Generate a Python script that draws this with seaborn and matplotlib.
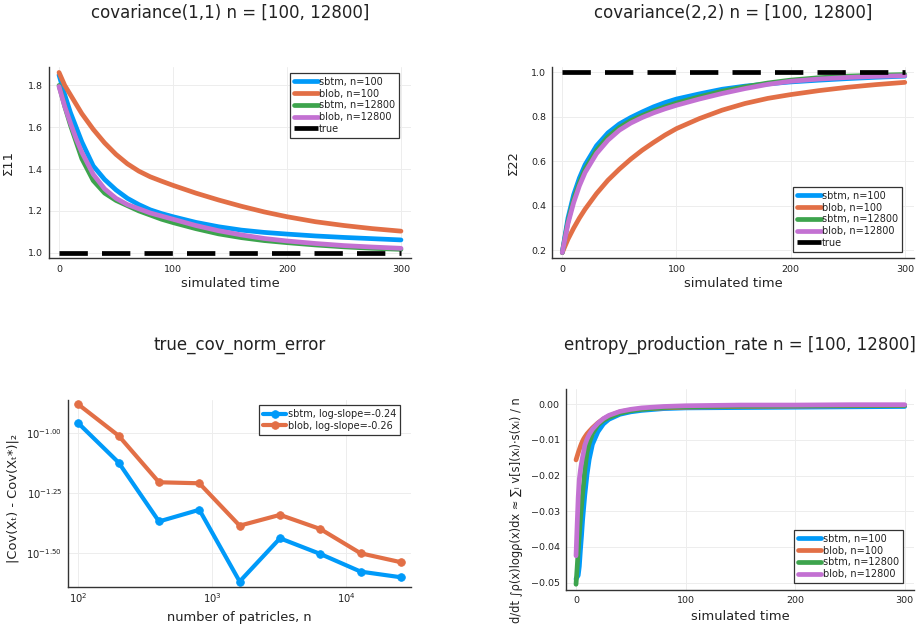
import matplotlib
matplotlib.use("Agg")
import matplotlib.pyplot as plt
import seaborn as sns
import numpy as np
import pandas as pd
from matplotlib.ticker import NullLocator, FixedLocator, FixedFormatter

# ---------------- data ----------------
t_cov = [0, 5, 10, 15, 20, 30, 40, 50, 60, 70, 80, 90, 100, 120, 140, 160, 180, 200, 225, 250, 275, 300]

s11_sbtm_100 = [1.85, 1.755, 1.67, 1.60, 1.53, 1.415, 1.35, 1.30, 1.26, 1.23, 1.205, 1.187, 1.172, 1.145, 1.124,
                1.108, 1.097, 1.089, 1.080, 1.073, 1.067, 1.061]
s11_blob_100 = [1.862, 1.80, 1.755, 1.71, 1.665, 1.59, 1.525, 1.47, 1.425, 1.39, 1.363, 1.342, 1.322, 1.285, 1.252,
                1.222, 1.195, 1.172, 1.148, 1.13, 1.115, 1.103]
s11_sbtm_12800 = [1.80, 1.70, 1.61, 1.53, 1.45, 1.345, 1.285, 1.25, 1.225, 1.20, 1.18, 1.16, 1.144, 1.115, 1.09,
                  1.072, 1.058, 1.048, 1.037, 1.028, 1.021, 1.016]
s11_blob_12800 = [1.795, 1.70, 1.62, 1.545, 1.48, 1.375, 1.305, 1.26, 1.23, 1.21, 1.19, 1.175, 1.16, 1.13, 1.105,
                  1.085, 1.068, 1.056, 1.044, 1.034, 1.027, 1.021]

s22_sbtm_100 = [0.19, 0.345, 0.45, 0.525, 0.585, 0.67, 0.728, 0.768, 0.797, 0.822, 0.845, 0.864, 0.88, 0.903, 0.924,
                0.938, 0.948, 0.957, 0.965, 0.972, 0.978, 0.983]
s22_blob_100 = [0.19, 0.25, 0.30, 0.345, 0.385, 0.455, 0.515, 0.565, 0.61, 0.65, 0.685, 0.718, 0.747, 0.792, 0.83,
                0.86, 0.883, 0.90, 0.918, 0.933, 0.945, 0.955]
s22_sbtm_12800 = [0.19, 0.33, 0.43, 0.505, 0.565, 0.65, 0.71, 0.752, 0.783, 0.806, 0.827, 0.845, 0.862, 0.89, 0.915,
                  0.935, 0.952, 0.965, 0.976, 0.983, 0.987, 0.99]
s22_blob_12800 = [0.19, 0.32, 0.415, 0.49, 0.55, 0.635, 0.695, 0.74, 0.772, 0.797, 0.818, 0.836, 0.852, 0.88, 0.905,
                  0.927, 0.946, 0.96, 0.97, 0.977, 0.982, 0.985]

t_true = [0, 300]
true_s11 = [1.0, 1.0]
true_s22 = [1.0, 1.0]

n_particles = [100, 200, 400, 800, 1600, 3200, 6400, 12800, 25600]
err_sbtm = [0.1102, 0.0755, 0.0429, 0.0480, 0.0241, 0.0365, 0.0314, 0.0265, 0.0251]
err_blob = [0.1320, 0.0977, 0.0625, 0.0619, 0.0412, 0.0457, 0.0399, 0.0316, 0.0290]

t_ent = [0, 1, 2, 3, 4, 5, 6, 7, 8, 10, 12, 15, 20, 25, 30, 40, 50, 60, 80, 100, 150, 200, 250, 300]
ent_sbtm_100 = [-0.049, -0.0485, -0.048, -0.0455, -0.041, -0.037, -0.0325, -0.029, -0.0255, -0.0198, -0.0155,
                -0.0112, -0.0077, -0.0055, -0.0042, -0.0028, -0.0021, -0.0017, -0.0012, -0.0010, -0.0009,
                -0.0008, -0.0007, -0.0006]
ent_blob_100 = [-0.0156, -0.0146, -0.0136, -0.0127, -0.0118, -0.0110, -0.0103, -0.0097, -0.0092, -0.0083, -0.0076,
                -0.0066, -0.0052, -0.0041, -0.0033, -0.0021, -0.0016, -0.0013, -0.0010, -0.0008, -0.0006,
                -0.0005, -0.0004, -0.0003]
ent_sbtm_12800 = [-0.0505, -0.046, -0.041, -0.0365, -0.032, -0.0285, -0.025, -0.022, -0.0185, -0.0135, -0.011,
                  -0.0082, -0.0058, -0.0045, -0.0037, -0.0025, -0.0018, -0.0014, -0.0009, -0.0007, -0.0005,
                  -0.0004, -0.0003, -0.0003]
ent_blob_12800 = [-0.0425, -0.034, -0.026, -0.021, -0.0185, -0.0165, -0.0148, -0.0133, -0.0115, -0.0098, -0.0085,
                  -0.0070, -0.0053, -0.0040, -0.0031, -0.0020, -0.0014, -0.0010, -0.0006, -0.0004, -0.0002,
                  -0.0002, -0.0001, -0.0001]

labels4 = ["sbtm, n=100", "blob, n=100", "sbtm, n=12800", "blob, n=12800"]
labels_err = ["sbtm, log-slope=-0.24", "blob, log-slope=-0.26"]

titles = ["covariance(1,1) n = [100, 12800]", "covariance(2,2) n = [100, 12800]",
          "true_cov_norm_error", "entropy_production_rate n = [100, 12800]"]

# ---------------- style ----------------
sns.set_theme(style="white")
plt.rcParams['font.family'] = ['DejaVu Sans']
plt.rcParams['axes.unicode_minus'] = True

C = ['#009AF9', '#E26F46', '#3DA44D', '#C371D2']
TXT = '#222222'
GRID = '#ededed'
LW = 3.4

fig = plt.figure(figsize=(9.24, 6.31), dpi=100)
ax_tl = fig.add_axes([0.0534, 0.5906, 0.3914, 0.3032])
ax_tr = fig.add_axes([0.5977, 0.5906, 0.3914, 0.3032])
ax_bl = fig.add_axes([0.0739, 0.0693, 0.3709, 0.2968])
ax_br = fig.add_axes([0.6126, 0.0650, 0.3766, 0.3185])


def style_ax(ax):
    for s in ['top', 'right']:
        ax.spines[s].set_visible(False)
    for s in ['left', 'bottom']:
        ax.spines[s].set_color('#333333')
        ax.spines[s].set_linewidth(1.0)
    ax.tick_params(axis='both', direction='in', length=3, width=0.8, color='#333333',
                   labelsize=6.8, labelcolor=TXT, pad=4.5)
    ax.grid(True, color=GRID, linewidth=0.7)
    ax.set_axisbelow(True)


def legend(ax, loc, anchor, lw=3.4):
    leg = ax.legend(loc=loc, bbox_to_anchor=anchor, borderaxespad=0, fontsize=7.0,
                    frameon=True, fancybox=False, edgecolor='#333333', framealpha=1,
                    handlelength=2.4, handletextpad=0.15, labelspacing=0.18, borderpad=0.4)
    leg.get_frame().set_linewidth(0.9)
    for h in leg.get_lines():
        h.set_linewidth(lw)
    for tx in leg.get_texts():
        tx.set_color(TXT)


# ---- top-left ----
for vals, c, lab in zip([s11_sbtm_100, s11_blob_100, s11_sbtm_12800, s11_blob_12800], C, labels4):
    sns.lineplot(x=t_cov, y=vals, ax=ax_tl, color=c, linewidth=LW, label=lab)
sns.lineplot(x=t_true, y=true_s11, ax=ax_tl, color='black', linewidth=LW, label='true',
             linestyle=(0, (6.0, 3.0)))
ax_tl.set_xlim(-8.5, 308.8)
ax_tl.set_ylim(0.973, 1.888)
ax_tl.set_xticks([0, 100, 200, 300])
ax_tl.set_yticks([1.0, 1.2, 1.4, 1.6, 1.8])
ax_tl.set_yticklabels(['1.0', '1.2', '1.4', '1.6', '1.8'])
style_ax(ax_tl)
legend(ax_tl, 'upper right', (0.967, 0.969))

# ---- top-right ----
for vals, c, lab in zip([s22_sbtm_100, s22_blob_100, s22_sbtm_12800, s22_blob_12800], C, labels4):
    sns.lineplot(x=t_cov, y=vals, ax=ax_tr, color=c, linewidth=LW, label=lab)
sns.lineplot(x=t_true, y=true_s22, ax=ax_tr, color='black', linewidth=LW, label='true',
             linestyle=(0, (6.0, 3.0)))
ax_tr.set_xlim(-8.75, 308)
ax_tr.set_ylim(0.164, 1.024)
ax_tr.set_xticks([0, 100, 200, 300])
ax_tr.set_yticks([0.2, 0.4, 0.6, 0.8, 1.0])
ax_tr.set_yticklabels(['0.2', '0.4', '0.6', '0.8', '1.0'])
style_ax(ax_tr)
legend(ax_tr, 'lower right', (0.967, 0.0345))

# ---- bottom-left ----
for vals, c, lab in zip([err_sbtm, err_blob], C[:2], labels_err):
    sns.lineplot(x=n_particles, y=vals, ax=ax_bl, color=c, linewidth=3.0, label=lab,
                 marker='o', markersize=5.5, markeredgecolor=c, markeredgewidth=0.6)
ax_bl.set_xscale('log')
ax_bl.set_yscale('log')
ax_bl.set_xlim(10 ** 1.925, 10 ** 4.483)
ax_bl.set_ylim(10 ** -1.642, 10 ** -0.861)
ax_bl.xaxis.set_major_locator(FixedLocator([1e2, 1e3, 1e4]))
ax_bl.xaxis.set_major_formatter(FixedFormatter([r'$10^2$', r'$10^3$', r'$10^4$']))
ax_bl.yaxis.set_major_locator(FixedLocator([10 ** -1.5, 10 ** -1.25, 10 ** -1.0]))
ax_bl.yaxis.set_major_formatter(FixedFormatter([r'$10^{-1.50}$', r'$10^{-1.25}$', r'$10^{-1.00}$']))
ax_bl.xaxis.set_minor_locator(NullLocator())
ax_bl.yaxis.set_minor_locator(NullLocator())
style_ax(ax_bl)
ax_bl.tick_params(axis='both', labelsize=7.2)
ax_bl.tick_params(axis='x', pad=3)
legend(ax_bl, 'upper right', (0.968, 0.973), lw=3.0)

# ---- bottom-right ----
for vals, c, lab in zip([ent_sbtm_100, ent_blob_100, ent_sbtm_12800, ent_blob_12800], C, labels4):
    sns.lineplot(x=t_ent, y=vals, ax=ax_br, color=c, linewidth=LW, label=lab)
ax_br.set_xlim(-9.1, 308.5)
ax_br.set_ylim(-0.0521, 0.0043)
ax_br.set_xticks([0, 100, 200, 300])
ax_br.set_yticks([-0.05, -0.04, -0.03, -0.02, -0.01, 0.0])
ax_br.set_yticklabels(['\u22120.05', '\u22120.04', '\u22120.03', '\u22120.02', '\u22120.01', '0.00'])
style_ax(ax_br)
legend(ax_br, 'lower right', (0.968, 0.035))

# ---- labels ----
LBL = 9.4
ax_tl.set_xlabel('simulated time', fontsize=LBL, color=TXT, va='top')
ax_tl.xaxis.set_label_coords(0.5, -0.098)
ax_tl.set_ylabel('\u03a311', fontsize=LBL, color=TXT)
ax_tl.yaxis.set_label_coords(-0.095, 0.5)

ax_tr.set_xlabel('simulated time', fontsize=LBL, color=TXT, va='top')
ax_tr.xaxis.set_label_coords(0.5, -0.098)
ax_tr.set_ylabel('\u03a322', fontsize=LBL, color=TXT)
ax_tr.yaxis.set_label_coords(-0.089, 0.5)

ax_bl.set_xlabel('number of patricles, n', fontsize=LBL, color=TXT, va='top')
ax_bl.xaxis.set_label_coords(0.5, -0.127)
ax_bl.set_ylabel('|Cov(X\u209c) - Cov(X\u209c*)|\u2082', fontsize=LBL, color=TXT)
ax_bl.yaxis.set_label_coords(-0.141, 0.477)

ax_br.set_xlabel('simulated time', fontsize=LBL, color=TXT, va='top')
ax_br.xaxis.set_label_coords(0.5, -0.0995)
ax_br.set_ylabel('d/dt \u222b\u03c1(x)log\u03c1(x)dx \u2248 \u2211\u1d62 v[s](x\u1d62)\u22c5s(x\u1d62) / n',
                 fontsize=8.3, color=TXT, va='bottom', ha='center')
ax_br.yaxis.set_label_coords(-0.124, 0.395)

# ---- titles ----
TS = 12
fig.text(0.249, 1 - 13 / 631, titles[0], ha='center', va='center', fontsize=TS, color=TXT)
fig.text(0.793, 1 - 13 / 631, titles[1], ha='center', va='center', fontsize=TS, color=TXT)
fig.text(0.2597, 1 - 345 / 631, titles[2], ha='center', va='center', fontsize=TS, color=TXT)
fig.text(0.801, 1 - 345 / 631, titles[3], ha='center', va='center', fontsize=TS, color=TXT)

fig.savefig('out.png', dpi=100)
